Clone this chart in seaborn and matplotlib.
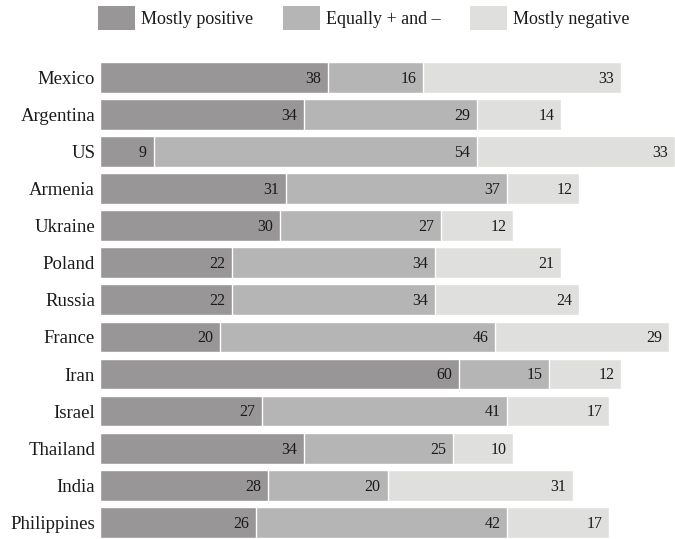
import matplotlib
matplotlib.use('Agg')
import matplotlib.pyplot as plt
import seaborn as sns
import pandas as pd
from matplotlib.patches import Patch

countries = ['Mexico', 'Argentina', 'US', 'Armenia', 'Ukraine', 'Poland', 'Russia',
             'France', 'Iran', 'Israel', 'Thailand', 'India', 'Philippines']
positive = [38, 34, 9, 31, 30, 22, 22, 20, 60, 27, 34, 28, 26]
mixed = [16, 29, 54, 37, 27, 34, 34, 46, 15, 41, 25, 20, 42]
negative = [33, 14, 33, 12, 12, 21, 24, 29, 12, 17, 10, 31, 17]

legend_labels = ['Mostly positive', 'Equally + and \u2013', 'Mostly negative']
colors = ['#989697', '#b5b5b5', '#dfdfde']

df = pd.DataFrame({'country': countries, 'pos': positive, 'mix': mixed, 'neg': negative})
df['c1'] = df['pos']
df['c2'] = df['pos'] + df['mix']
df['c3'] = df['c2'] + df['neg']

sns.set_style('white')
plt.rcParams['font.family'] = ['Liberation Serif', 'DejaVu Serif']

fig = plt.figure(figsize=(6.75, 5.39), dpi=100)
ax = fig.add_axes([100 / 675, 0, 575 / 675, 1 - 57 / 539])

# stacked bars: draw cumulative totals back to front
for col, c in zip(['c3', 'c2', 'c1'], colors[::-1]):
    sns.barplot(data=df, x=col, y='country', color=c, saturation=1,
                width=0.83, ax=ax, orient='h')

for i, row in df.iterrows():
    for col, seg in zip(['c1', 'c2', 'c3'], [row['pos'], row['mix'], row['neg']]):
        ax.annotate(str(seg), xy=(row[col], i), xytext=(-5, -1),
                    textcoords='offset points', ha='right', va='center',
                    fontsize=11.5, color='#1a1a1a')

ax.set_xlim(0, 96)
ax.set_ylim(12.45, -0.55)
ax.set_xlabel('')
ax.set_ylabel('')
ax.set_xticks([])
ax.tick_params(axis='y', length=0, pad=3.5, labelsize=13.5)
for lbl in ax.get_yticklabels():
    lbl.set_color('#1a1a1a')
sns.despine(ax=ax, left=True, bottom=True)

handles = [Patch(facecolor=c, edgecolor='none') for c in colors]
fig.legend(handles, legend_labels, loc='upper left', ncol=3, frameon=False,
           bbox_to_anchor=(98 / 675, 1 - 6 / 539), borderpad=0, borderaxespad=0,
           fontsize=13, handlelength=2.05, handleheight=1.67,
           handletextpad=0.33, columnspacing=1.65, labelcolor='#1a1a1a')

fig.savefig('out.png', dpi=100)
